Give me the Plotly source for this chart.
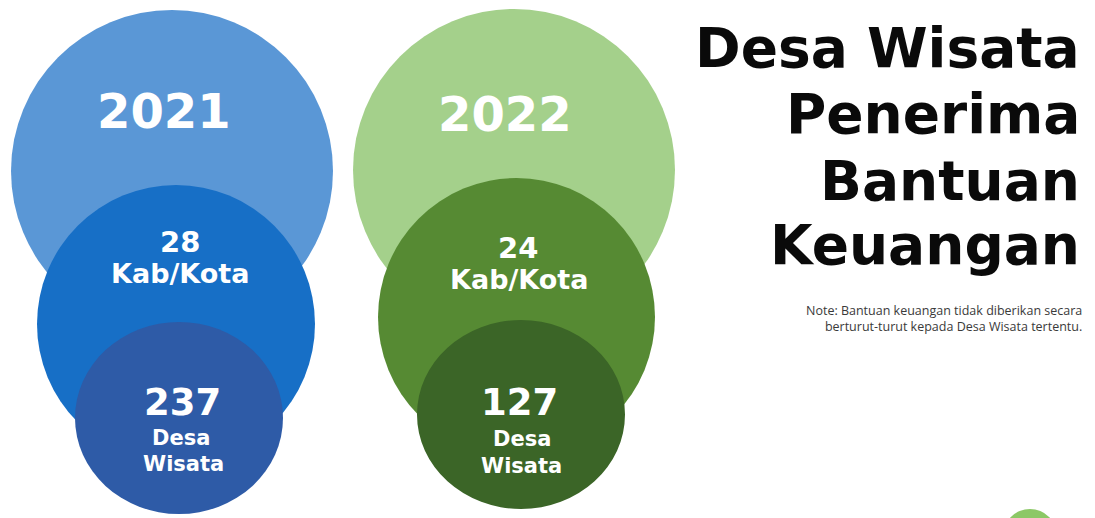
import plotly.graph_objects as go

# ---- data ----
years = ["2021", "2022"]
kab_kota = [28, 24]
desa_wisata = [237, 127]
kab_label = "Kab/Kota"
desa_label = ["Desa", "Wisata"]
title_lines = ["Desa Wisata", "Penerima", "Bantuan", "Keuangan"]
note_lines = ["Note: Bantuan keuangan tidak diberikan secara",
              "berturut-turut kepada Desa Wisata tertentu."]

# ---- layout constants (screen pixel space) ----
W, H = 1095, 518
OFF = 8  # default body margin of the html page
# discs: (x0, y0, x1, y1) per column
big_c = [(11, 10, 333, 332), (353, 9, 675, 331)]
mid_c = [(37, 185, 315, 463), (378, 178, 655, 456)]
small_c = [(75, 322, 283, 514), (417, 320, 625, 509)]
colors = [
    dict(big="#5a97d6", mid="#176fc6", small="#2e5ba7"),
    dict(big="#a4d08b", mid="#568a33", small="#3b6527"),
]
# text anchors per column
year_pos = [(164, 111), (505, 114)]
kab_num_pos = [(180, 242), (518, 248)]
kab_lbl_pos = [(180, 273), (519, 279)]
desa_num_pos = [(182, 402), (519, 402)]
desa_l1_pos = [(181, 438), (522, 439)]
desa_l2_pos = [(183, 464), (521, 466)]

FONT = "DejaVu Sans"


def disc(box, color):
    x0, y0, x1, y1 = box
    return dict(type="circle", xref="x", yref="y", x0=x0, x1=x1,
                y0=y0, y1=y1, fillcolor=color, line=dict(width=0),
                layer="below")


def text(pos, s, size, color="white", weight="bold", xanchor="center",
         family=FONT, align="center"):
    return dict(x=pos[0], y=pos[1], xref="x", yref="y", text=s,
                showarrow=False, xanchor=xanchor, yanchor="middle",
                align=align,
                font=dict(family=family, size=size, color=color,
                          weight=weight))


shapes = []
annotations = []
for i, yr in enumerate(years):
    c = colors[i]
    shapes.append(disc(big_c[i], c["big"]))
    shapes.append(disc(mid_c[i], c["mid"]))
    shapes.append(disc(small_c[i], c["small"]))
    annotations.append(text(year_pos[i], yr, 48))
    annotations.append(text(kab_num_pos[i], str(kab_kota[i]), 29))
    annotations.append(text(kab_lbl_pos[i], kab_label, 27))
    annotations.append(text(desa_num_pos[i], str(desa_wisata[i]), 37))
    annotations.append(text(desa_l1_pos[i], desa_label[0], 21))
    annotations.append(text(desa_l2_pos[i], desa_label[1], 21))

# decorative partial disc bottom-right
shapes.append(disc((1003, 509, 1057, 563), "#8cc866"))

title_y = [48, 114, 181, 245]
for line, ty in zip(title_lines, title_y):
    annotations.append(text((1082, ty), line, 55, color="#0a0a0a",
                            xanchor="right"))

annotations.append(text((1084, 318.5), "<br>".join(note_lines), 12.5,
                        color="#3a3a3a", weight="normal", xanchor="right",
                        family="Open Sans", align="right"))

fig = go.Figure()
fig.add_trace(go.Scatter(x=[OFF, W], y=[OFF, H], mode="markers",
                         marker=dict(opacity=0), hoverinfo="skip",
                         showlegend=False))

fig.update_layout(
    width=W - OFF, height=H - OFF, autosize=False,
    margin=dict(l=0, r=0, t=0, b=0, pad=0),
    paper_bgcolor="white", plot_bgcolor="white",
    xaxis=dict(range=[OFF, W], visible=False, fixedrange=True),
    yaxis=dict(range=[H, OFF], visible=False, fixedrange=True),
    shapes=shapes, annotations=annotations,
    showlegend=False,
)

fig.write_html("out.html")
